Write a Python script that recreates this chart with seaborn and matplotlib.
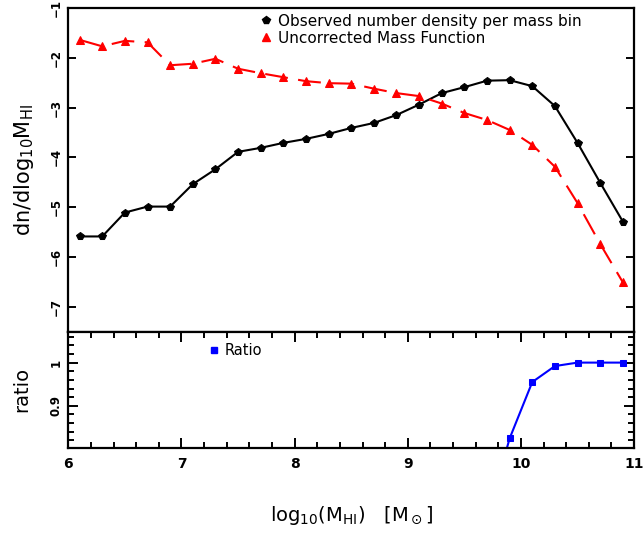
import numpy as np
import matplotlib
matplotlib.use("Agg")
import matplotlib.pyplot as plt
from matplotlib.lines import Line2D
from matplotlib.ticker import MultipleLocator, FuncFormatter
import seaborn as sns

sns.set_theme(style="ticks")
plt.rcParams["font.family"] = ["DejaVu Sans"]
plt.rcParams["mathtext.default"] = "regular"
plt.rcParams["text.color"] = "black"
plt.rcParams["axes.labelcolor"] = "black"
plt.rcParams["xtick.color"] = "black"
plt.rcParams["ytick.color"] = "black"

# data
log_mass = [6.1, 6.3, 6.5, 6.7, 6.9, 7.1, 7.3, 7.5, 7.7, 7.9, 8.1, 8.3, 8.5,
            8.7, 8.9, 9.1, 9.3, 9.5, 9.7, 9.9, 10.1, 10.3, 10.5, 10.7, 10.9]
observed = [-5.59, -5.59, -5.11, -4.99, -4.99, -4.54, -4.24, -3.89, -3.81,
            -3.71, -3.63, -3.53, -3.41, -3.31, -3.15, -2.94, -2.71, -2.59,
            -2.46, -2.45, -2.57, -2.97, -3.71, -4.51, -5.29]
uncorrected = [-1.64, -1.77, -1.66, -1.69, -2.15, -2.12, -2.02, -2.22, -2.31,
               -2.39, -2.47, -2.51, -2.52, -2.62, -2.71, -2.77, -2.92, -3.11,
               -3.25, -3.45, -3.75, -4.19, -4.92, -5.74, -6.51]
ratio_mass = [9.7, 9.9, 10.1, 10.3, 10.5, 10.7, 10.9]
ratio = [0.64, 0.8245, 0.955, 0.992, 1.0, 1.0, 1.0]

fig = plt.figure(figsize=(6.43, 5.34), dpi=100)
ax1 = fig.add_axes([0.1062, 0.3792, 0.880, 0.6058])
ax2 = fig.add_axes([0.1062, 0.1605, 0.880, 0.2187])

sns.lineplot(x=log_mass, y=observed, ax=ax1, color="black", marker="p",
             markersize=6, markeredgecolor="black", linewidth=1.5)
sns.lineplot(x=log_mass, y=uncorrected, ax=ax1, color="red", marker="^",
             markersize=6, markeredgecolor="red", linewidth=1.5)
ax1.lines[1].set_dashes([11, 5])

sns.lineplot(x=ratio_mass, y=ratio, ax=ax2, color="blue", marker="s",
             markersize=5, markeredgecolor="blue", linewidth=1.5)

for ax in (ax1, ax2):
    ax.set_xlim(6, 11)
    for s in ax.spines.values():
        s.set_linewidth(1.6)
        s.set_color("black")

ax1.set_ylim(-7.5, -1)
ax1.yaxis.set_major_locator(MultipleLocator(1))
ax1.tick_params(axis="x", bottom=False, top=False, labelbottom=False)
ax1.tick_params(axis="y", left=True, right=True, direction="in", length=6,
                width=1.4, labelsize=8.5, labelrotation=90, pad=4)
for t in ax1.get_yticklabels():
    t.set_fontweight("bold")
    t.set_va("center")

ax2.set_ylim(0.8016, 1.072)
ax2.xaxis.set_major_locator(MultipleLocator(1))
ax2.xaxis.set_minor_locator(MultipleLocator(0.2))
ax2.yaxis.set_major_locator(MultipleLocator(0.1))
ax2.yaxis.set_minor_locator(MultipleLocator(0.02))
ax2.yaxis.set_major_formatter(FuncFormatter(lambda v, p: f"{v:g}"))
ax2.tick_params(which="both", top=True, bottom=True, left=True, right=True,
                direction="in", width=1.4)
ax2.tick_params(which="major", length=7)
ax2.tick_params(which="minor", length=4)
ax2.tick_params(axis="x", labelsize=10, pad=6)
ax2.tick_params(axis="y", labelsize=8.5, labelrotation=90, pad=4)
for t in ax2.get_xticklabels() + ax2.get_yticklabels():
    t.set_fontweight("bold")
for t in ax2.get_yticklabels():
    t.set_va("center")

ax1.set_ylabel(r"dn/dlog$_{10}$M$_{HI}$", fontsize=15, va="center")
ax1.yaxis.set_label_coords(-0.078, 0.5)
ax2.set_ylabel("ratio", fontsize=14, va="center")
ax2.yaxis.set_label_coords(-0.082, 0.5)
ax2.set_xlabel(r"log$_{10}$(M$_{HI}$)   [M$_\odot$]", fontsize=14, labelpad=24)

h1 = [Line2D([], [], color="black", marker="p", linestyle="none", markersize=6),
      Line2D([], [], color="red", marker="^", linestyle="none", markersize=6)]
ax1.legend(h1, ["Observed number density per mass bin", "Uncorrected Mass Function"],
           loc="upper left", bbox_to_anchor=(0.338, 0.982), frameon=False,
           fontsize=11, handlelength=0.8, handletextpad=0.4, borderpad=0,
           labelspacing=0.12, borderaxespad=0)

h2 = [Line2D([], [], color="blue", marker="s", linestyle="none", markersize=5)]
ax2.legend(h2, ["Ratio"], loc="upper left", bbox_to_anchor=(0.25, 0.9),
           frameon=False, fontsize=10.5, handlelength=0.6, handletextpad=0.4,
           borderpad=0, borderaxespad=0)

fig.savefig("out.png", dpi=100)
